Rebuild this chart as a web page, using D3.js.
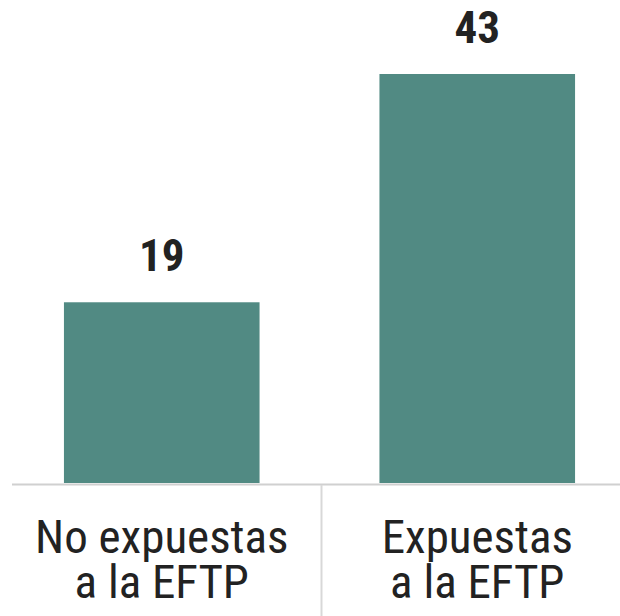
<!DOCTYPE html>
<html>
<head>
<meta charset="utf-8">
<script src="https://cdn.jsdelivr.net/npm/d3@7"></script>
<style>
  body { margin: 0; background: #fff; }
  text { font-family: "Liberation Sans Narrow", "Roboto Condensed", Roboto, sans-serif; }
</style>
</head>
<body>
<script>
// data
var categories = ["No expuestas|a la EFTP", "Expuestas|a la EFTP"];
var values = [19, 43];

var width = 620, height = 616;
var baseY = 483;

var svg = d3.select("body").append("svg")
  .attr("width", width)
  .attr("height", height);

var xScale = d3.scaleBand()
  .domain(categories)
  .range([4, 635])
  .paddingInner(0.38)
  .paddingOuter(0.19);

var yScale = d3.scaleLinear()
  .domain([0, 43])
  .range([baseY, 74]);

svg.selectAll("rect.bar")
  .data(values)
  .enter().append("rect")
  .attr("class", "bar")
  .attr("x", function(d, i){ return xScale(categories[i]); })
  .attr("y", function(d){ return yScale(d); })
  .attr("width", xScale.bandwidth())
  .attr("height", function(d){ return baseY - yScale(d); })
  .attr("fill", "#518a83");

// value labels
svg.selectAll("text.val")
  .data(values)
  .enter().append("text")
  .attr("class", "val")
  .attr("x", function(d, i){ return xScale(categories[i]) + xScale.bandwidth()/2; })
  .attr("y", function(d){ return yScale(d) - 31; })
  .attr("text-anchor", "middle")
  .attr("font-size", 45)
  .attr("font-weight", "bold")
  .attr("fill", "#222")
  .text(function(d){ return d; });

// baseline + divider
svg.append("line")
  .attr("x1", 12).attr("x2", width)
  .attr("y1", baseY + 1.5).attr("y2", baseY + 1.5)
  .attr("stroke", "#d0d0d0").attr("stroke-width", 2);

var mid = (xScale(categories[0]) + xScale.bandwidth() + xScale(categories[1])) / 2 + 2;
svg.append("line")
  .attr("x1", mid).attr("x2", mid)
  .attr("y1", baseY + 2).attr("y2", height)
  .attr("stroke", "#d8d8d8").attr("stroke-width", 2);

// category labels, one text per line
categories.forEach(function(c){
  c.split("|").forEach(function(t, i){
    svg.append("text")
      .attr("class", "cat")
      .attr("x", xScale(c) + xScale.bandwidth()/2)
      .attr("y", 553 + i*45)
      .attr("text-anchor", "middle")
      .attr("font-size", 47)
      .attr("fill", "#222")
      .text(t);
  });
});
</script>
</body>
</html>
